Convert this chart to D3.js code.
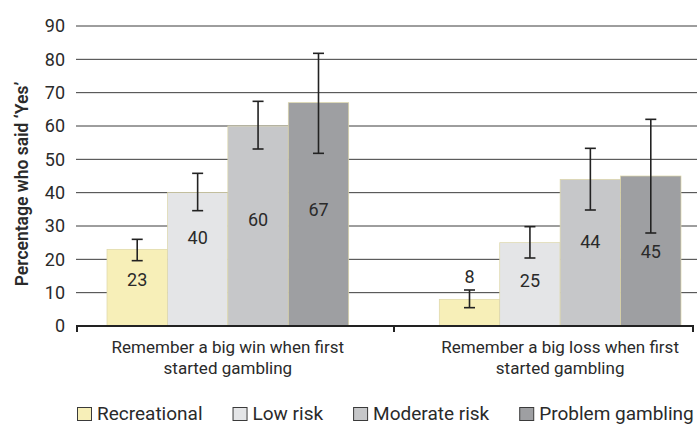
<!DOCTYPE html>
<html>
<head>
<meta charset="utf-8">
<script src="https://cdn.jsdelivr.net/npm/d3@7"></script>
<style>
  html, body { margin: 0; padding: 0; background: #fff; }
  svg { display: block; }
  text { font-family: Roboto, "Noto Sans", sans-serif; fill: #2a2a2a; }
</style>
</head>
<body>
<svg id="chart" width="697" height="424"></svg>
<script>
// ---- data ----
const categories = ["Remember a big win when first started gambling", "Remember a big loss when first started gambling"];
const categoryLines = [["Remember a big win when first", "started gambling"], ["Remember a big loss when first", "started gambling"]];
const series = ["Recreational", "Low risk", "Moderate risk", "Problem gambling"];
const recreational = [23, 8];
const lowRisk = [40, 25];
const moderateRisk = [60, 44];
const problemGambling = [67, 45];
const errLowRecreational = [19.6, 5.5];
const errHighRecreational = [26.0, 10.8];
const errLowLowRisk = [34.6, 20.4];
const errHighLowRisk = [45.8, 29.8];
const errLowModerate = [53.1, 34.8];
const errHighModerate = [67.4, 53.3];
const errLowProblem = [51.8, 27.9];
const errHighProblem = [81.8, 62.0];
const yTicks = [0, 10, 20, 30, 40, 50, 60, 70, 80, 90];
// label anchor (in value units) for bar labels, per series per category
const labelAtRecreational = [13.8, 14.8];
const labelAtLowRisk = [26.4, 13.6];
const labelAtModerate = [31.8, 25.3];
const labelAtProblem = [34.8, 22.3];

const colors = ["#f7efb8", "#e4e5e7", "#c6c7c9", "#9e9fa2"];

const seriesValues = [recreational, lowRisk, moderateRisk, problemGambling];
const seriesErrLow = [errLowRecreational, errLowLowRisk, errLowModerate, errLowProblem];
const seriesErrHigh = [errHighRecreational, errHighLowRisk, errHighModerate, errHighProblem];
const seriesLabelAt = [labelAtRecreational, labelAtLowRisk, labelAtModerate, labelAtProblem];

const rows = [];
categories.forEach((c, ci) => {
  series.forEach((s, si) => {
    rows.push({cat: c, ci, ser: s, si,
      value: seriesValues[si][ci], lo: seriesErrLow[si][ci], hi: seriesErrHigh[si][ci],
      labelAt: seriesLabelAt[si][ci]});
  });
});

// ---- layout ----
const svg = d3.select("#chart");
const axisLeft = 77, axisRight = 693, gridRight = 697;
const y = d3.scaleLinear().domain([0, 90]).range([326, 26]);
const x0 = d3.scaleBand().domain(categories).range([107, 681]).paddingInner(0.2726).paddingOuter(0);
const x1 = d3.scaleBand().domain(series).range([0, x0.bandwidth()]).padding(0);
const color = d3.scaleOrdinal().domain(series).range(colors);

// gridlines
svg.append("g").selectAll("line").data(yTicks.filter(t => t > 0)).join("line")
  .attr("x1", axisLeft - 1).attr("x2", gridRight)
  .attr("y1", d => y(d)).attr("y2", d => y(d))
  .attr("stroke", "#3c3c3c").attr("stroke-width", 1);

// tick labels
svg.append("g").selectAll("text").data(yTicks).join("text")
  .attr("x", 65).attr("y", d => y(d)).attr("dy", "0.36em")
  .attr("text-anchor", "end").attr("font-size", 18)
  .text(d => d);

// y-axis title
svg.append("text")
  .attr("transform", "translate(28,184) rotate(-90)")
  .attr("text-anchor", "middle").attr("font-size", 17.5).attr("font-weight", 600)
  .text("Percentage who said \u2018Yes\u2019");

// bars
const bars = svg.append("g");
bars.selectAll("rect").data(rows).join("rect")
  .attr("x", d => x0(d.cat) + x1(d.ser))
  .attr("y", d => y(d.value))
  .attr("width", x1.bandwidth())
  .attr("height", d => y(0) - y(d.value))
  .attr("fill", d => color(d.ser))
  .attr("stroke", "#ddd6a8").attr("stroke-width", 0.7);

// bar value labels
svg.append("g").selectAll("text").data(rows).join("text")
  .attr("x", d => x0(d.cat) + x1(d.ser) + x1.bandwidth() / 2)
  .attr("y", d => y(d.labelAt)).attr("dy", "0.36em")
  .attr("text-anchor", "middle").attr("font-size", 18).attr("fill", "#2a2a2a")
  .text(d => d.value);

// error bars
const eb = svg.append("g").attr("stroke", "#222").attr("stroke-width", 1.6);
const cap = 5.5;
rows.forEach(d => {
  const cx = x0(d.cat) + x1(d.ser) + x1.bandwidth() / 2;
  eb.append("line").attr("x1", cx).attr("x2", cx).attr("y1", y(d.lo)).attr("y2", y(d.hi));
  eb.append("line").attr("x1", cx - cap).attr("x2", cx + cap).attr("y1", y(d.lo)).attr("y2", y(d.lo));
  eb.append("line").attr("x1", cx - cap).attr("x2", cx + cap).attr("y1", y(d.hi)).attr("y2", y(d.hi));
});

// x axis baseline + ticks
const base = svg.append("g").attr("stroke", "#222").attr("stroke-width", 2);
base.append("line").attr("x1", axisLeft - 1).attr("x2", axisRight + 1).attr("y1", y(0)).attr("y2", y(0));
const mid = (x0(categories[0]) + x0.bandwidth() + x0(categories[1])) / 2;
[axisLeft, mid, axisRight].forEach(tx => {
  base.append("line").attr("x1", tx).attr("x2", tx).attr("y1", y(0)).attr("y2", y(0) + 6);
});

// category labels
categoryLines.forEach((lines, ci) => {
  const cx = x0(categories[ci]) + x0.bandwidth() / 2;
  const t = svg.append("text").attr("text-anchor", "middle").attr("font-size", 17);
  lines.forEach((ln, li) => {
    t.append("tspan").attr("x", cx).attr("y", 353 + li * 21).text(ln);
  });
});

// legend
const legend = svg.append("g");
let lx = 77;
series.forEach((s, i) => {
  legend.append("rect").attr("x", lx + 0.5).attr("y", 407.5).attr("width", 14).attr("height", 13)
    .attr("fill", colors[i]).attr("stroke", "#3a3a3a").attr("stroke-width", 1);
  const t = legend.append("text").attr("x", lx + 20).attr("y", 420).attr("font-size", 19).text(s);
  const w = t.node().getComputedTextLength();
  lx = lx + 20 + w + 30;
});
</script>
</body>
</html>
